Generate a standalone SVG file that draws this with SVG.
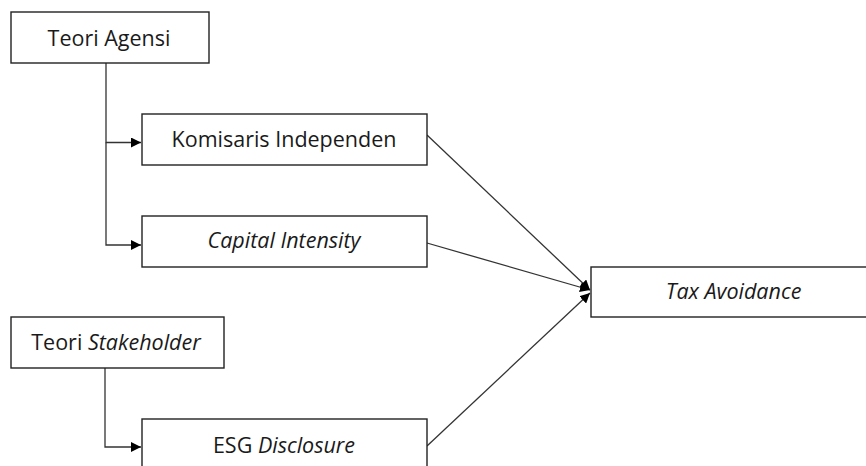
<svg xmlns="http://www.w3.org/2000/svg" width="866" height="466" viewBox="0 0 866 466">
<defs>
<style>
.box{fill:#fff;stroke:#222;stroke-width:1.4}
.t{font-family:"Open Sans","Noto Sans","Liberation Sans",sans-serif;font-size:21.5px;fill:#1a1a1a;text-anchor:middle}
.i{font-style:italic}
.c{fill:none;stroke:#333;stroke-width:1.3}
</style>
<marker id="ah" viewBox="0 0 10 10" refX="10" refY="5" markerWidth="10" markerHeight="10" markerUnits="userSpaceOnUse" orient="auto">
<path d="M0,0 L10,5 L0,10 z" fill="#000"/>
</marker>
</defs>
<rect width="866" height="466" fill="#fff"/>
<g id="connectors">
<path class="c" d="M106,63 V142.5 H141" marker-end="url(#ah)"/>
<path class="c" d="M106,142.5 V245 H141" marker-end="url(#ah)"/>
<path class="c" d="M105,368 V447 H141" marker-end="url(#ah)"/>
<path class="c" d="M427,135 L590,290" marker-end="url(#ah)"/>
<path class="c" d="M427,243 L590,290" marker-end="url(#ah)"/>
<path class="c" d="M427,446 L590,293" marker-end="url(#ah)"/>
</g>
<g id="teori-agensi">
<rect class="box" x="11" y="12" width="198" height="51"/>
<text class="t" x="109" y="45.5">Teori Agensi</text>
</g>
<g id="komisaris">
<rect class="box" x="142" y="114" width="285" height="51"/>
<text class="t" x="284" y="146.5">Komisaris Independen</text>
</g>
<g id="capital">
<rect class="box" x="142" y="216" width="285" height="51"/>
<text class="t i" x="284" y="247.5">Capital Intensity</text>
</g>
<g id="teori-stakeholder">
<rect class="box" x="11" y="317" width="213" height="51"/>
<text class="t" x="116" y="349.5">Teori <tspan class="i">Stakeholder</tspan></text>
</g>
<g id="esg">
<rect class="box" x="142" y="419" width="285" height="60"/>
<text class="t" x="284" y="452.5">ESG <tspan class="i">Disclosure</tspan></text>
</g>
<g id="tax">
<rect class="box" x="591" y="267" width="290" height="50"/>
<text class="t i" x="733.5" y="298.5">Tax Avoidance</text>
</g>
</svg>
